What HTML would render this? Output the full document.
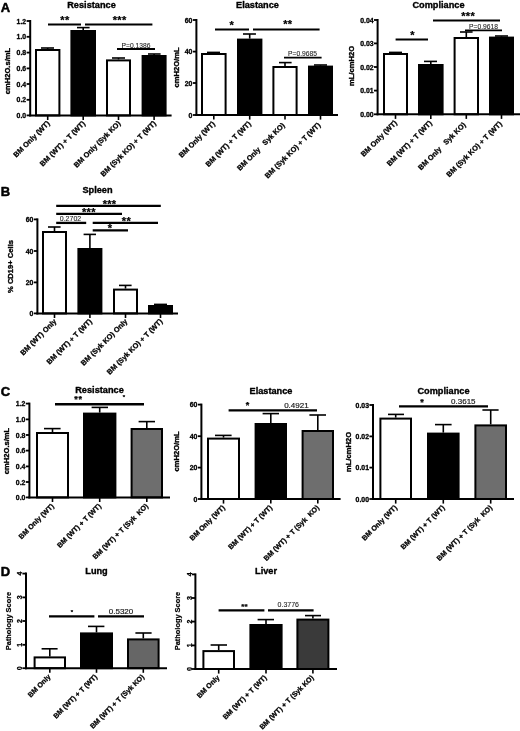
<!DOCTYPE html>
<html lang="en">
<head>
<meta charset="utf-8">
<title>Figure</title>
<style>
html,body{margin:0;padding:0;background:#fff;}
body{width:520px;height:731px;overflow:hidden;}
svg{display:block;font-family:'Liberation Sans', Arial, sans-serif;}
</style>
</head>
<body>
<svg width="520" height="731" viewBox="0 0 520 731" shape-rendering="geometricPrecision">
<rect x="0" y="0" width="520" height="731" fill="#fff"/>
<text x="0.80" y="12.40" font-size="13" font-weight="bold" text-anchor="start" fill="#000" stroke="#000" stroke-width="0.5" stroke-linejoin="round">A</text>
<line x1="47.70" y1="48.00" x2="47.70" y2="49.00" stroke="#000" stroke-width="1.6"/>
<line x1="41.00" y1="48.00" x2="54.00" y2="48.00" stroke="#000" stroke-width="1.6"/>
<rect x="36.00" y="50.00" width="23.40" height="65.40" fill="#fff" stroke="#000" stroke-width="2"/>
<line x1="83.20" y1="27.60" x2="83.20" y2="30.00" stroke="#000" stroke-width="1.6"/>
<line x1="77.00" y1="27.60" x2="89.60" y2="27.60" stroke="#000" stroke-width="1.6"/>
<rect x="71.40" y="31.00" width="23.60" height="84.40" fill="#000" stroke="#000" stroke-width="2"/>
<line x1="118.50" y1="58.00" x2="118.50" y2="59.40" stroke="#000" stroke-width="1.6"/>
<line x1="112.00" y1="58.00" x2="125.00" y2="58.00" stroke="#000" stroke-width="1.6"/>
<rect x="107.00" y="60.40" width="23.00" height="55.00" fill="#fff" stroke="#000" stroke-width="2"/>
<line x1="154.10" y1="54.00" x2="154.10" y2="55.00" stroke="#000" stroke-width="1.6"/>
<line x1="148.00" y1="54.00" x2="160.60" y2="54.00" stroke="#000" stroke-width="1.6"/>
<rect x="142.60" y="56.00" width="23.00" height="59.40" fill="#000" stroke="#000" stroke-width="2"/>
<line x1="30.20" y1="20.00" x2="30.20" y2="116.40" stroke="#000" stroke-width="2"/>
<line x1="29.20" y1="115.40" x2="171.60" y2="115.40" stroke="#000" stroke-width="2"/>
<line x1="26.60" y1="21.00" x2="30.20" y2="21.00" stroke="#000" stroke-width="1.8"/>
<text x="26.20" y="23.50" font-size="6.9" font-weight="bold" text-anchor="end" fill="#000" stroke="#000" stroke-width="0.3" stroke-linejoin="round">1.2</text>
<line x1="26.60" y1="36.80" x2="30.20" y2="36.80" stroke="#000" stroke-width="1.8"/>
<text x="26.20" y="39.30" font-size="6.9" font-weight="bold" text-anchor="end" fill="#000" stroke="#000" stroke-width="0.3" stroke-linejoin="round">1.0</text>
<line x1="26.60" y1="52.60" x2="30.20" y2="52.60" stroke="#000" stroke-width="1.8"/>
<text x="26.20" y="55.10" font-size="6.9" font-weight="bold" text-anchor="end" fill="#000" stroke="#000" stroke-width="0.3" stroke-linejoin="round">0.8</text>
<line x1="26.60" y1="68.40" x2="30.20" y2="68.40" stroke="#000" stroke-width="1.8"/>
<text x="26.20" y="70.90" font-size="6.9" font-weight="bold" text-anchor="end" fill="#000" stroke="#000" stroke-width="0.3" stroke-linejoin="round">0.6</text>
<line x1="26.60" y1="84.00" x2="30.20" y2="84.00" stroke="#000" stroke-width="1.8"/>
<text x="26.20" y="86.50" font-size="6.9" font-weight="bold" text-anchor="end" fill="#000" stroke="#000" stroke-width="0.3" stroke-linejoin="round">0.4</text>
<line x1="26.60" y1="99.80" x2="30.20" y2="99.80" stroke="#000" stroke-width="1.8"/>
<text x="26.20" y="102.30" font-size="6.9" font-weight="bold" text-anchor="end" fill="#000" stroke="#000" stroke-width="0.3" stroke-linejoin="round">0.2</text>
<line x1="26.60" y1="115.40" x2="30.20" y2="115.40" stroke="#000" stroke-width="1.8"/>
<text x="26.20" y="117.90" font-size="6.9" font-weight="bold" text-anchor="end" fill="#000" stroke="#000" stroke-width="0.3" stroke-linejoin="round">0.0</text>
<line x1="47.70" y1="115.40" x2="47.70" y2="120.00" stroke="#000" stroke-width="1.6"/>
<text x="50.20" y="123.90" font-size="7.3" font-weight="bold" text-anchor="end" fill="#000" stroke="#000" stroke-width="0.28" stroke-linejoin="round" transform="rotate(-45 50.20 123.90)">BM Only (WT)</text>
<line x1="83.20" y1="115.40" x2="83.20" y2="120.00" stroke="#000" stroke-width="1.6"/>
<text x="85.70" y="123.90" font-size="7.3" font-weight="bold" text-anchor="end" fill="#000" stroke="#000" stroke-width="0.28" stroke-linejoin="round" transform="rotate(-45 85.70 123.90)">BM (WT) + T (WT)</text>
<line x1="118.50" y1="115.40" x2="118.50" y2="120.00" stroke="#000" stroke-width="1.6"/>
<text x="121.00" y="123.90" font-size="7.3" font-weight="bold" text-anchor="end" fill="#000" stroke="#000" stroke-width="0.28" stroke-linejoin="round" transform="rotate(-45 121.00 123.90)">BM Only (Syk KO)</text>
<line x1="154.10" y1="115.40" x2="154.10" y2="120.00" stroke="#000" stroke-width="1.6"/>
<text x="156.60" y="123.90" font-size="7.3" font-weight="bold" text-anchor="end" fill="#000" stroke="#000" stroke-width="0.28" stroke-linejoin="round" transform="rotate(-45 156.60 123.90)">BM (Syk KO) + T (WT)</text>
<text x="10.00" y="71.00" font-size="7.6" font-weight="bold" text-anchor="middle" fill="#000" stroke="#000" stroke-width="0.35" stroke-linejoin="round" transform="rotate(-90 10.00 71.00)">cmH2O.s/mL</text>
<text x="91.50" y="8.20" font-size="9.2" font-weight="bold" text-anchor="middle" fill="#000" stroke="#000" stroke-width="0.35" stroke-linejoin="round">Resistance</text>
<line x1="48.00" y1="24.40" x2="81.00" y2="24.40" stroke="#000" stroke-width="2"/>
<text x="64.95" y="23.52" font-size="11" font-weight="bold" text-anchor="middle" letter-spacing="0.3" fill="#000" stroke="#000" stroke-width="0.25">**</text>
<line x1="85.00" y1="24.40" x2="152.40" y2="24.40" stroke="#000" stroke-width="2"/>
<text x="119.65" y="23.52" font-size="11" font-weight="bold" text-anchor="middle" letter-spacing="0.3" fill="#000" stroke="#000" stroke-width="0.25">***</text>
<line x1="117.00" y1="49.00" x2="155.00" y2="49.00" stroke="#000" stroke-width="1.8"/>
<text x="136.00" y="47.80" font-size="6.7" font-weight="normal" text-anchor="middle" fill="#1a1a1a" stroke="#1a1a1a" stroke-width="0.08">P=0.1386</text>
<line x1="213.80" y1="52.40" x2="213.80" y2="53.00" stroke="#000" stroke-width="1.6"/>
<line x1="207.00" y1="52.40" x2="220.00" y2="52.40" stroke="#000" stroke-width="1.6"/>
<rect x="202.00" y="54.00" width="23.60" height="61.00" fill="#fff" stroke="#000" stroke-width="2"/>
<line x1="249.70" y1="34.00" x2="249.70" y2="38.60" stroke="#000" stroke-width="1.6"/>
<line x1="243.00" y1="34.00" x2="256.00" y2="34.00" stroke="#000" stroke-width="1.6"/>
<rect x="238.00" y="39.60" width="23.40" height="75.40" fill="#000" stroke="#000" stroke-width="2"/>
<line x1="285.00" y1="62.60" x2="285.00" y2="66.00" stroke="#000" stroke-width="1.6"/>
<line x1="279.00" y1="62.60" x2="291.60" y2="62.60" stroke="#000" stroke-width="1.6"/>
<rect x="273.40" y="67.00" width="23.20" height="48.00" fill="#fff" stroke="#000" stroke-width="2"/>
<line x1="320.50" y1="65.00" x2="320.50" y2="65.60" stroke="#000" stroke-width="1.6"/>
<line x1="314.00" y1="65.00" x2="327.00" y2="65.00" stroke="#000" stroke-width="1.6"/>
<rect x="309.00" y="66.60" width="23.00" height="48.40" fill="#000" stroke="#000" stroke-width="2"/>
<line x1="196.40" y1="19.00" x2="196.40" y2="116.00" stroke="#000" stroke-width="2"/>
<line x1="195.40" y1="115.00" x2="338.00" y2="115.00" stroke="#000" stroke-width="2"/>
<line x1="192.80" y1="20.00" x2="196.40" y2="20.00" stroke="#000" stroke-width="1.8"/>
<text x="192.40" y="22.50" font-size="6.9" font-weight="bold" text-anchor="end" fill="#000" stroke="#000" stroke-width="0.3" stroke-linejoin="round">60</text>
<line x1="192.80" y1="51.60" x2="196.40" y2="51.60" stroke="#000" stroke-width="1.8"/>
<text x="192.40" y="54.10" font-size="6.9" font-weight="bold" text-anchor="end" fill="#000" stroke="#000" stroke-width="0.3" stroke-linejoin="round">40</text>
<line x1="192.80" y1="83.00" x2="196.40" y2="83.00" stroke="#000" stroke-width="1.8"/>
<text x="192.40" y="85.50" font-size="6.9" font-weight="bold" text-anchor="end" fill="#000" stroke="#000" stroke-width="0.3" stroke-linejoin="round">20</text>
<line x1="192.80" y1="115.00" x2="196.40" y2="115.00" stroke="#000" stroke-width="1.8"/>
<text x="192.40" y="117.50" font-size="6.9" font-weight="bold" text-anchor="end" fill="#000" stroke="#000" stroke-width="0.3" stroke-linejoin="round">0</text>
<line x1="213.80" y1="115.00" x2="213.80" y2="119.60" stroke="#000" stroke-width="1.6"/>
<text x="215.50" y="124.30" font-size="7.3" font-weight="bold" text-anchor="end" fill="#000" stroke="#000" stroke-width="0.28" stroke-linejoin="round" transform="rotate(-45 215.50 124.30)">BM Only (WT)</text>
<line x1="249.70" y1="115.00" x2="249.70" y2="119.60" stroke="#000" stroke-width="1.6"/>
<text x="251.40" y="124.30" font-size="7.3" font-weight="bold" text-anchor="end" fill="#000" stroke="#000" stroke-width="0.28" stroke-linejoin="round" transform="rotate(-45 251.40 124.30)">BM (WT) + T (WT)</text>
<line x1="285.00" y1="115.00" x2="285.00" y2="119.60" stroke="#000" stroke-width="1.6"/>
<text x="285.30" y="125.70" font-size="7.3" font-weight="bold" text-anchor="end" fill="#000" stroke="#000" stroke-width="0.28" stroke-linejoin="round" transform="rotate(-45 285.30 125.70)">BM Only&#160;&#160;&#160;Syk KO)</text>
<line x1="320.50" y1="115.00" x2="320.50" y2="119.60" stroke="#000" stroke-width="1.6"/>
<text x="321.00" y="125.50" font-size="7.3" font-weight="bold" text-anchor="end" fill="#000" stroke="#000" stroke-width="0.28" stroke-linejoin="round" transform="rotate(-45 321.00 125.50)">BM (Syk KO) + T (WT)</text>
<text x="179.40" y="67.50" font-size="7.6" font-weight="bold" text-anchor="middle" fill="#000" stroke="#000" stroke-width="0.35" stroke-linejoin="round" transform="rotate(-90 179.40 67.50)">cmH2O/mL</text>
<text x="257.50" y="8.20" font-size="9.2" font-weight="bold" text-anchor="middle" fill="#000" stroke="#000" stroke-width="0.35" stroke-linejoin="round">Elastance</text>
<line x1="215.00" y1="29.40" x2="249.00" y2="29.40" stroke="#000" stroke-width="2"/>
<text x="231.75" y="28.52" font-size="11" font-weight="bold" text-anchor="middle" letter-spacing="0.3" fill="#000" stroke="#000" stroke-width="0.25">*</text>
<line x1="253.00" y1="29.40" x2="319.60" y2="29.40" stroke="#000" stroke-width="2"/>
<text x="287.75" y="28.32" font-size="11" font-weight="bold" text-anchor="middle" letter-spacing="0.3" fill="#000" stroke="#000" stroke-width="0.25">**</text>
<line x1="284.00" y1="57.60" x2="321.60" y2="57.60" stroke="#000" stroke-width="1.8"/>
<text x="302.50" y="55.60" font-size="6.7" font-weight="normal" text-anchor="middle" fill="#1a1a1a" stroke="#1a1a1a" stroke-width="0.08">P=0.9685</text>
<line x1="395.50" y1="52.40" x2="395.50" y2="53.00" stroke="#000" stroke-width="1.6"/>
<line x1="389.00" y1="52.40" x2="402.00" y2="52.40" stroke="#000" stroke-width="1.6"/>
<rect x="384.00" y="54.00" width="23.00" height="60.30" fill="#fff" stroke="#000" stroke-width="2"/>
<line x1="430.80" y1="61.40" x2="430.80" y2="64.00" stroke="#000" stroke-width="1.6"/>
<line x1="424.00" y1="61.40" x2="437.00" y2="61.40" stroke="#000" stroke-width="1.6"/>
<rect x="419.00" y="65.00" width="23.60" height="49.30" fill="#000" stroke="#000" stroke-width="2"/>
<line x1="466.30" y1="32.00" x2="466.30" y2="37.00" stroke="#000" stroke-width="1.6"/>
<line x1="460.00" y1="32.00" x2="472.60" y2="32.00" stroke="#000" stroke-width="1.6"/>
<rect x="454.60" y="38.00" width="23.40" height="76.30" fill="#fff" stroke="#000" stroke-width="2"/>
<line x1="501.50" y1="36.00" x2="501.50" y2="36.60" stroke="#000" stroke-width="1.6"/>
<line x1="495.00" y1="36.00" x2="508.00" y2="36.00" stroke="#000" stroke-width="1.6"/>
<rect x="490.00" y="37.60" width="23.00" height="76.70" fill="#000" stroke="#000" stroke-width="2"/>
<line x1="377.60" y1="19.00" x2="377.60" y2="115.30" stroke="#000" stroke-width="2"/>
<line x1="376.60" y1="114.30" x2="520.00" y2="114.30" stroke="#000" stroke-width="2"/>
<line x1="374.00" y1="20.00" x2="377.60" y2="20.00" stroke="#000" stroke-width="1.8"/>
<text x="373.60" y="22.50" font-size="6.9" font-weight="bold" text-anchor="end" fill="#000" stroke="#000" stroke-width="0.3" stroke-linejoin="round">0.04</text>
<line x1="374.00" y1="43.40" x2="377.60" y2="43.40" stroke="#000" stroke-width="1.8"/>
<text x="373.60" y="45.90" font-size="6.9" font-weight="bold" text-anchor="end" fill="#000" stroke="#000" stroke-width="0.3" stroke-linejoin="round">0.03</text>
<line x1="374.00" y1="67.00" x2="377.60" y2="67.00" stroke="#000" stroke-width="1.8"/>
<text x="373.60" y="69.50" font-size="6.9" font-weight="bold" text-anchor="end" fill="#000" stroke="#000" stroke-width="0.3" stroke-linejoin="round">0.02</text>
<line x1="374.00" y1="90.60" x2="377.60" y2="90.60" stroke="#000" stroke-width="1.8"/>
<text x="373.60" y="93.10" font-size="6.9" font-weight="bold" text-anchor="end" fill="#000" stroke="#000" stroke-width="0.3" stroke-linejoin="round">0.01</text>
<line x1="374.00" y1="114.30" x2="377.60" y2="114.30" stroke="#000" stroke-width="1.8"/>
<text x="373.60" y="116.80" font-size="6.9" font-weight="bold" text-anchor="end" fill="#000" stroke="#000" stroke-width="0.3" stroke-linejoin="round">0.00</text>
<line x1="395.50" y1="114.30" x2="395.50" y2="118.90" stroke="#000" stroke-width="1.6"/>
<text x="397.50" y="123.30" font-size="7.3" font-weight="bold" text-anchor="end" fill="#000" stroke="#000" stroke-width="0.28" stroke-linejoin="round" transform="rotate(-45 397.50 123.30)">BM Only (WT)</text>
<line x1="430.80" y1="114.30" x2="430.80" y2="118.90" stroke="#000" stroke-width="1.6"/>
<text x="432.50" y="123.60" font-size="7.3" font-weight="bold" text-anchor="end" fill="#000" stroke="#000" stroke-width="0.28" stroke-linejoin="round" transform="rotate(-45 432.50 123.60)">BM (WT) + T (WT)</text>
<line x1="466.30" y1="114.30" x2="466.30" y2="118.90" stroke="#000" stroke-width="1.6"/>
<text x="466.30" y="125.30" font-size="7.3" font-weight="bold" text-anchor="end" fill="#000" stroke="#000" stroke-width="0.28" stroke-linejoin="round" transform="rotate(-45 466.30 125.30)">BM Only&#160;&#160;&#160;Syk KO)</text>
<line x1="501.50" y1="114.30" x2="501.50" y2="118.90" stroke="#000" stroke-width="1.6"/>
<text x="502.40" y="124.40" font-size="7.3" font-weight="bold" text-anchor="end" fill="#000" stroke="#000" stroke-width="0.28" stroke-linejoin="round" transform="rotate(-45 502.40 124.40)">BM (Syk KO) + T (WT)</text>
<text x="353.80" y="66.00" font-size="7.6" font-weight="bold" text-anchor="middle" fill="#000" stroke="#000" stroke-width="0.35" stroke-linejoin="round" transform="rotate(-90 353.80 66.00)">mL/cmH2O</text>
<text x="438.50" y="8.20" font-size="9.2" font-weight="bold" text-anchor="middle" fill="#000" stroke="#000" stroke-width="0.35" stroke-linejoin="round">Compliance</text>
<line x1="395.60" y1="39.60" x2="428.00" y2="39.60" stroke="#000" stroke-width="2"/>
<text x="412.55" y="38.52" font-size="11" font-weight="bold" text-anchor="middle" letter-spacing="0.3" fill="#000" stroke="#000" stroke-width="0.25">*</text>
<line x1="433.00" y1="20.60" x2="500.00" y2="20.60" stroke="#000" stroke-width="2"/>
<text x="468.15" y="19.52" font-size="11" font-weight="bold" text-anchor="middle" letter-spacing="0.3" fill="#000" stroke="#000" stroke-width="0.25">***</text>
<line x1="465.00" y1="30.40" x2="502.00" y2="30.40" stroke="#000" stroke-width="1.8"/>
<text x="483.50" y="28.60" font-size="6.7" font-weight="normal" text-anchor="middle" fill="#1a1a1a" stroke="#1a1a1a" stroke-width="0.08">P=0.9618</text>
<text x="0.80" y="196.00" font-size="13" font-weight="bold" text-anchor="start" fill="#000" stroke="#000" stroke-width="0.5" stroke-linejoin="round">B</text>
<line x1="54.50" y1="227.00" x2="54.50" y2="231.00" stroke="#000" stroke-width="1.6"/>
<line x1="48.00" y1="227.00" x2="60.60" y2="227.00" stroke="#000" stroke-width="1.6"/>
<rect x="43.00" y="232.00" width="23.00" height="81.40" fill="#fff" stroke="#000" stroke-width="2"/>
<line x1="89.90" y1="234.40" x2="89.90" y2="248.00" stroke="#000" stroke-width="1.6"/>
<line x1="83.60" y1="234.40" x2="96.00" y2="234.40" stroke="#000" stroke-width="1.6"/>
<rect x="78.40" y="249.00" width="23.00" height="64.40" fill="#000" stroke="#000" stroke-width="2"/>
<line x1="125.50" y1="285.40" x2="125.50" y2="288.60" stroke="#000" stroke-width="1.6"/>
<line x1="119.00" y1="285.40" x2="131.60" y2="285.40" stroke="#000" stroke-width="1.6"/>
<rect x="114.00" y="289.60" width="23.00" height="23.80" fill="#fff" stroke="#000" stroke-width="2"/>
<line x1="160.50" y1="304.40" x2="160.50" y2="305.00" stroke="#000" stroke-width="1.6"/>
<line x1="154.00" y1="304.40" x2="167.00" y2="304.40" stroke="#000" stroke-width="1.6"/>
<rect x="149.00" y="306.00" width="23.00" height="7.40" fill="#000" stroke="#000" stroke-width="2"/>
<line x1="37.40" y1="218.40" x2="37.40" y2="314.40" stroke="#000" stroke-width="2"/>
<line x1="36.40" y1="313.40" x2="178.00" y2="313.40" stroke="#000" stroke-width="2"/>
<line x1="33.80" y1="219.40" x2="37.40" y2="219.40" stroke="#000" stroke-width="1.8"/>
<text x="33.40" y="221.90" font-size="6.9" font-weight="bold" text-anchor="end" fill="#000" stroke="#000" stroke-width="0.3" stroke-linejoin="round">60</text>
<line x1="33.80" y1="251.00" x2="37.40" y2="251.00" stroke="#000" stroke-width="1.8"/>
<text x="33.40" y="253.50" font-size="6.9" font-weight="bold" text-anchor="end" fill="#000" stroke="#000" stroke-width="0.3" stroke-linejoin="round">40</text>
<line x1="33.80" y1="282.40" x2="37.40" y2="282.40" stroke="#000" stroke-width="1.8"/>
<text x="33.40" y="284.90" font-size="6.9" font-weight="bold" text-anchor="end" fill="#000" stroke="#000" stroke-width="0.3" stroke-linejoin="round">20</text>
<line x1="33.80" y1="313.40" x2="37.40" y2="313.40" stroke="#000" stroke-width="1.8"/>
<text x="33.40" y="315.90" font-size="6.9" font-weight="bold" text-anchor="end" fill="#000" stroke="#000" stroke-width="0.3" stroke-linejoin="round">0</text>
<line x1="54.50" y1="313.40" x2="54.50" y2="318.00" stroke="#000" stroke-width="1.6"/>
<text x="57.00" y="321.90" font-size="7.3" font-weight="bold" text-anchor="end" fill="#000" stroke="#000" stroke-width="0.28" stroke-linejoin="round" transform="rotate(-45 57.00 321.90)">BM (WT) Only</text>
<line x1="89.90" y1="313.40" x2="89.90" y2="318.00" stroke="#000" stroke-width="1.6"/>
<text x="92.40" y="321.90" font-size="7.3" font-weight="bold" text-anchor="end" fill="#000" stroke="#000" stroke-width="0.28" stroke-linejoin="round" transform="rotate(-45 92.40 321.90)">BM (WT) + T (WT)</text>
<line x1="125.50" y1="313.40" x2="125.50" y2="318.00" stroke="#000" stroke-width="1.6"/>
<text x="128.00" y="321.90" font-size="7.3" font-weight="bold" text-anchor="end" fill="#000" stroke="#000" stroke-width="0.28" stroke-linejoin="round" transform="rotate(-45 128.00 321.90)">BM (Syk KO) Only</text>
<line x1="160.50" y1="313.40" x2="160.50" y2="318.00" stroke="#000" stroke-width="1.6"/>
<text x="163.00" y="321.90" font-size="7.3" font-weight="bold" text-anchor="end" fill="#000" stroke="#000" stroke-width="0.28" stroke-linejoin="round" transform="rotate(-45 163.00 321.90)">BM (Syk KO) + T (WT)</text>
<text x="13.00" y="266.50" font-size="7.6" font-weight="bold" text-anchor="middle" fill="#000" stroke="#000" stroke-width="0.35" stroke-linejoin="round" transform="rotate(-90 13.00 266.50)">% CD19+ Cells</text>
<text x="97.50" y="193.40" font-size="9.2" font-weight="bold" text-anchor="middle" fill="#000" stroke="#000" stroke-width="0.35" stroke-linejoin="round">Spleen</text>
<line x1="56.20" y1="205.80" x2="160.80" y2="205.80" stroke="#000" stroke-width="2.3"/>
<text x="109.55" y="207.62" font-size="11" font-weight="bold" text-anchor="middle" letter-spacing="0.3" fill="#000" stroke="#000" stroke-width="0.25">***</text>
<line x1="56.20" y1="213.90" x2="122.00" y2="213.90" stroke="#000" stroke-width="2.3"/>
<text x="88.85" y="215.82" font-size="11" font-weight="bold" text-anchor="middle" letter-spacing="0.3" fill="#000" stroke="#000" stroke-width="0.25">***</text>
<line x1="56.20" y1="222.90" x2="86.20" y2="222.90" stroke="#000" stroke-width="2.3"/>
<text x="70.50" y="221.20" font-size="7" font-weight="normal" text-anchor="middle" fill="#1a1a1a" stroke="#1a1a1a" stroke-width="0.08">0.2702</text>
<line x1="92.70" y1="222.90" x2="158.00" y2="222.90" stroke="#000" stroke-width="2.3"/>
<text x="126.45" y="224.62" font-size="11" font-weight="bold" text-anchor="middle" letter-spacing="0.3" fill="#000" stroke="#000" stroke-width="0.25">**</text>
<line x1="92.70" y1="230.30" x2="128.00" y2="230.30" stroke="#000" stroke-width="2.3"/>
<text x="109.95" y="232.02" font-size="11" font-weight="bold" text-anchor="middle" letter-spacing="0.3" fill="#000" stroke="#000" stroke-width="0.25">*</text>
<text x="0.80" y="396.00" font-size="13" font-weight="bold" text-anchor="start" fill="#000" stroke="#000" stroke-width="0.5" stroke-linejoin="round">C</text>
<line x1="52.50" y1="428.60" x2="52.50" y2="432.00" stroke="#000" stroke-width="1.6"/>
<line x1="44.00" y1="428.60" x2="60.60" y2="428.60" stroke="#000" stroke-width="1.6"/>
<rect x="37.00" y="433.00" width="31.00" height="64.40" fill="#fff" stroke="#000" stroke-width="2"/>
<line x1="99.70" y1="407.40" x2="99.70" y2="412.60" stroke="#000" stroke-width="1.6"/>
<line x1="91.60" y1="407.40" x2="108.00" y2="407.40" stroke="#000" stroke-width="1.6"/>
<rect x="84.00" y="413.60" width="31.40" height="83.80" fill="#000" stroke="#000" stroke-width="2"/>
<line x1="146.80" y1="421.60" x2="146.80" y2="428.00" stroke="#000" stroke-width="1.6"/>
<line x1="138.60" y1="421.60" x2="155.00" y2="421.60" stroke="#000" stroke-width="1.6"/>
<rect x="131.60" y="429.00" width="30.40" height="68.40" fill="#6e6e6e" stroke="#000" stroke-width="2"/>
<line x1="29.40" y1="402.60" x2="29.40" y2="498.40" stroke="#000" stroke-width="2"/>
<line x1="28.40" y1="497.40" x2="170.00" y2="497.40" stroke="#000" stroke-width="2"/>
<line x1="25.80" y1="403.60" x2="29.40" y2="403.60" stroke="#000" stroke-width="1.8"/>
<text x="25.40" y="406.10" font-size="6.9" font-weight="bold" text-anchor="end" fill="#000" stroke="#000" stroke-width="0.3" stroke-linejoin="round">1.2</text>
<line x1="25.80" y1="419.40" x2="29.40" y2="419.40" stroke="#000" stroke-width="1.8"/>
<text x="25.40" y="421.90" font-size="6.9" font-weight="bold" text-anchor="end" fill="#000" stroke="#000" stroke-width="0.3" stroke-linejoin="round">1.0</text>
<line x1="25.80" y1="435.00" x2="29.40" y2="435.00" stroke="#000" stroke-width="1.8"/>
<text x="25.40" y="437.50" font-size="6.9" font-weight="bold" text-anchor="end" fill="#000" stroke="#000" stroke-width="0.3" stroke-linejoin="round">0.8</text>
<line x1="25.80" y1="450.60" x2="29.40" y2="450.60" stroke="#000" stroke-width="1.8"/>
<text x="25.40" y="453.10" font-size="6.9" font-weight="bold" text-anchor="end" fill="#000" stroke="#000" stroke-width="0.3" stroke-linejoin="round">0.6</text>
<line x1="25.80" y1="466.40" x2="29.40" y2="466.40" stroke="#000" stroke-width="1.8"/>
<text x="25.40" y="468.90" font-size="6.9" font-weight="bold" text-anchor="end" fill="#000" stroke="#000" stroke-width="0.3" stroke-linejoin="round">0.4</text>
<line x1="25.80" y1="482.00" x2="29.40" y2="482.00" stroke="#000" stroke-width="1.8"/>
<text x="25.40" y="484.50" font-size="6.9" font-weight="bold" text-anchor="end" fill="#000" stroke="#000" stroke-width="0.3" stroke-linejoin="round">0.2</text>
<line x1="25.80" y1="497.40" x2="29.40" y2="497.40" stroke="#000" stroke-width="1.8"/>
<text x="25.40" y="499.90" font-size="6.9" font-weight="bold" text-anchor="end" fill="#000" stroke="#000" stroke-width="0.3" stroke-linejoin="round">0.0</text>
<line x1="52.50" y1="497.40" x2="52.50" y2="502.00" stroke="#000" stroke-width="1.6"/>
<text x="54.40" y="506.50" font-size="7.1" font-weight="bold" text-anchor="end" fill="#000" stroke="#000" stroke-width="0.28" stroke-linejoin="round" transform="rotate(-45 54.40 506.50)">BM Only (WT)</text>
<line x1="99.70" y1="497.40" x2="99.70" y2="502.00" stroke="#000" stroke-width="1.6"/>
<text x="101.60" y="506.50" font-size="7.1" font-weight="bold" text-anchor="end" fill="#000" stroke="#000" stroke-width="0.28" stroke-linejoin="round" transform="rotate(-45 101.60 506.50)">BM (WT) + T (WT)</text>
<line x1="146.80" y1="497.40" x2="146.80" y2="502.00" stroke="#000" stroke-width="1.6"/>
<text x="148.70" y="506.50" font-size="7.1" font-weight="bold" text-anchor="end" fill="#000" stroke="#000" stroke-width="0.28" stroke-linejoin="round" transform="rotate(-45 148.70 506.50)">BM (WT) + T (Syk&#160; KO)</text>
<text x="8.60" y="451.00" font-size="7.6" font-weight="bold" text-anchor="middle" fill="#000" stroke="#000" stroke-width="0.35" stroke-linejoin="round" transform="rotate(-90 8.60 451.00)">cmH2O.s/mL</text>
<text x="99.50" y="392.80" font-size="9.2" font-weight="bold" text-anchor="middle" fill="#000" stroke="#000" stroke-width="0.35" stroke-linejoin="round">Resistance</text>
<line x1="55.00" y1="404.20" x2="144.00" y2="404.20" stroke="#000" stroke-width="2.4"/>
<text x="78.55" y="402.22" font-size="9" font-weight="bold" text-anchor="middle" letter-spacing="0.7" fill="#000" stroke="#000" stroke-width="0.25">**</text>
<text x="124.15" y="398.61" font-size="6" font-weight="bold" text-anchor="middle" letter-spacing="0.3" fill="#000" stroke="#000" stroke-width="0.25">*</text>
<line x1="223.50" y1="435.40" x2="223.50" y2="437.60" stroke="#000" stroke-width="1.6"/>
<line x1="215.00" y1="435.40" x2="231.60" y2="435.40" stroke="#000" stroke-width="1.6"/>
<rect x="208.00" y="438.60" width="31.00" height="60.40" fill="#fff" stroke="#000" stroke-width="2"/>
<line x1="270.80" y1="413.60" x2="270.80" y2="423.00" stroke="#000" stroke-width="1.6"/>
<line x1="262.60" y1="413.60" x2="279.00" y2="413.60" stroke="#000" stroke-width="1.6"/>
<rect x="255.60" y="424.00" width="30.40" height="75.00" fill="#000" stroke="#000" stroke-width="2"/>
<line x1="317.80" y1="415.00" x2="317.80" y2="430.00" stroke="#000" stroke-width="1.6"/>
<line x1="309.40" y1="415.00" x2="326.00" y2="415.00" stroke="#000" stroke-width="1.6"/>
<rect x="302.60" y="431.00" width="30.40" height="68.00" fill="#6e6e6e" stroke="#000" stroke-width="2"/>
<line x1="201.40" y1="403.60" x2="201.40" y2="500.00" stroke="#000" stroke-width="2"/>
<line x1="200.40" y1="499.00" x2="340.60" y2="499.00" stroke="#000" stroke-width="2"/>
<line x1="197.80" y1="404.60" x2="201.40" y2="404.60" stroke="#000" stroke-width="1.8"/>
<text x="197.40" y="407.10" font-size="6.9" font-weight="bold" text-anchor="end" fill="#000" stroke="#000" stroke-width="0.3" stroke-linejoin="round">60</text>
<line x1="197.80" y1="436.20" x2="201.40" y2="436.20" stroke="#000" stroke-width="1.8"/>
<text x="197.40" y="438.70" font-size="6.9" font-weight="bold" text-anchor="end" fill="#000" stroke="#000" stroke-width="0.3" stroke-linejoin="round">40</text>
<line x1="197.80" y1="467.60" x2="201.40" y2="467.60" stroke="#000" stroke-width="1.8"/>
<text x="197.40" y="470.10" font-size="6.9" font-weight="bold" text-anchor="end" fill="#000" stroke="#000" stroke-width="0.3" stroke-linejoin="round">20</text>
<line x1="197.80" y1="499.00" x2="201.40" y2="499.00" stroke="#000" stroke-width="1.8"/>
<text x="197.40" y="501.50" font-size="6.9" font-weight="bold" text-anchor="end" fill="#000" stroke="#000" stroke-width="0.3" stroke-linejoin="round">0</text>
<line x1="223.50" y1="499.00" x2="223.50" y2="503.60" stroke="#000" stroke-width="1.6"/>
<text x="225.40" y="508.10" font-size="7.1" font-weight="bold" text-anchor="end" fill="#000" stroke="#000" stroke-width="0.28" stroke-linejoin="round" transform="rotate(-45 225.40 508.10)">BM Only (WT)</text>
<line x1="270.80" y1="499.00" x2="270.80" y2="503.60" stroke="#000" stroke-width="1.6"/>
<text x="272.70" y="508.10" font-size="7.1" font-weight="bold" text-anchor="end" fill="#000" stroke="#000" stroke-width="0.28" stroke-linejoin="round" transform="rotate(-45 272.70 508.10)">BM (WT) + T (WT)</text>
<line x1="317.80" y1="499.00" x2="317.80" y2="503.60" stroke="#000" stroke-width="1.6"/>
<text x="319.70" y="508.10" font-size="7.1" font-weight="bold" text-anchor="end" fill="#000" stroke="#000" stroke-width="0.28" stroke-linejoin="round" transform="rotate(-45 319.70 508.10)">BM (WT) + T (Syk&#160; KO)</text>
<text x="178.60" y="451.50" font-size="7.6" font-weight="bold" text-anchor="middle" fill="#000" stroke="#000" stroke-width="0.35" stroke-linejoin="round" transform="rotate(-90 178.60 451.50)">cmH2O/mL</text>
<text x="271.00" y="393.60" font-size="9.2" font-weight="bold" text-anchor="middle" fill="#000" stroke="#000" stroke-width="0.35" stroke-linejoin="round">Elastance</text>
<line x1="228.60" y1="410.40" x2="317.00" y2="410.40" stroke="#000" stroke-width="2.4"/>
<text x="247.55" y="407.52" font-size="9" font-weight="bold" text-anchor="middle" letter-spacing="0.3" fill="#000" stroke="#000" stroke-width="0.25">*</text>
<text x="296.40" y="407.80" font-size="8" font-weight="normal" text-anchor="middle" fill="#1a1a1a" stroke="#1a1a1a" stroke-width="0.18">0.4921</text>
<line x1="395.70" y1="414.40" x2="395.70" y2="417.60" stroke="#000" stroke-width="1.6"/>
<line x1="388.00" y1="414.40" x2="404.00" y2="414.40" stroke="#000" stroke-width="1.6"/>
<rect x="380.40" y="418.60" width="30.60" height="80.40" fill="#fff" stroke="#000" stroke-width="2"/>
<line x1="443.30" y1="424.60" x2="443.30" y2="432.60" stroke="#000" stroke-width="1.6"/>
<line x1="435.00" y1="424.60" x2="451.60" y2="424.60" stroke="#000" stroke-width="1.6"/>
<rect x="428.00" y="433.60" width="30.60" height="65.40" fill="#000" stroke="#000" stroke-width="2"/>
<line x1="490.70" y1="410.00" x2="490.70" y2="424.40" stroke="#000" stroke-width="1.6"/>
<line x1="482.40" y1="410.00" x2="498.60" y2="410.00" stroke="#000" stroke-width="1.6"/>
<rect x="475.40" y="425.40" width="30.60" height="73.60" fill="#6e6e6e" stroke="#000" stroke-width="2"/>
<line x1="373.00" y1="404.00" x2="373.00" y2="500.00" stroke="#000" stroke-width="2"/>
<line x1="372.00" y1="499.00" x2="514.00" y2="499.00" stroke="#000" stroke-width="2"/>
<line x1="369.40" y1="405.00" x2="373.00" y2="405.00" stroke="#000" stroke-width="1.8"/>
<text x="369.00" y="407.50" font-size="6.9" font-weight="bold" text-anchor="end" fill="#000" stroke="#000" stroke-width="0.3" stroke-linejoin="round">0.03</text>
<line x1="369.40" y1="436.40" x2="373.00" y2="436.40" stroke="#000" stroke-width="1.8"/>
<text x="369.00" y="438.90" font-size="6.9" font-weight="bold" text-anchor="end" fill="#000" stroke="#000" stroke-width="0.3" stroke-linejoin="round">0.02</text>
<line x1="369.40" y1="467.60" x2="373.00" y2="467.60" stroke="#000" stroke-width="1.8"/>
<text x="369.00" y="470.10" font-size="6.9" font-weight="bold" text-anchor="end" fill="#000" stroke="#000" stroke-width="0.3" stroke-linejoin="round">0.01</text>
<line x1="369.40" y1="499.00" x2="373.00" y2="499.00" stroke="#000" stroke-width="1.8"/>
<text x="369.00" y="501.50" font-size="6.9" font-weight="bold" text-anchor="end" fill="#000" stroke="#000" stroke-width="0.3" stroke-linejoin="round">0.00</text>
<line x1="395.70" y1="499.00" x2="395.70" y2="503.60" stroke="#000" stroke-width="1.6"/>
<text x="397.60" y="508.10" font-size="7.1" font-weight="bold" text-anchor="end" fill="#000" stroke="#000" stroke-width="0.28" stroke-linejoin="round" transform="rotate(-45 397.60 508.10)">BM Only (WT)</text>
<line x1="443.30" y1="499.00" x2="443.30" y2="503.60" stroke="#000" stroke-width="1.6"/>
<text x="445.20" y="508.10" font-size="7.1" font-weight="bold" text-anchor="end" fill="#000" stroke="#000" stroke-width="0.28" stroke-linejoin="round" transform="rotate(-45 445.20 508.10)">BM (WT) + T (WT)</text>
<line x1="490.70" y1="499.00" x2="490.70" y2="503.60" stroke="#000" stroke-width="1.6"/>
<text x="492.60" y="508.10" font-size="7.1" font-weight="bold" text-anchor="end" fill="#000" stroke="#000" stroke-width="0.28" stroke-linejoin="round" transform="rotate(-45 492.60 508.10)">BM (WT) + T (Syk&#160; KO)</text>
<text x="351.40" y="452.00" font-size="7.6" font-weight="bold" text-anchor="middle" fill="#000" stroke="#000" stroke-width="0.35" stroke-linejoin="round" transform="rotate(-90 351.40 452.00)">mL/cmH2O</text>
<text x="443.50" y="393.60" font-size="9.2" font-weight="bold" text-anchor="middle" fill="#000" stroke="#000" stroke-width="0.35" stroke-linejoin="round">Compliance</text>
<line x1="399.00" y1="406.40" x2="488.00" y2="406.40" stroke="#000" stroke-width="2.4"/>
<text x="422.15" y="404.52" font-size="9" font-weight="bold" text-anchor="middle" letter-spacing="0.3" fill="#000" stroke="#000" stroke-width="0.25">*</text>
<text x="463.30" y="404.20" font-size="8" font-weight="normal" text-anchor="middle" fill="#1a1a1a" stroke="#1a1a1a" stroke-width="0.18">0.3615</text>
<text x="0.80" y="576.00" font-size="13" font-weight="bold" text-anchor="start" fill="#000" stroke="#000" stroke-width="0.5" stroke-linejoin="round">D</text>
<line x1="49.80" y1="648.80" x2="49.80" y2="656.40" stroke="#000" stroke-width="1.6"/>
<line x1="41.60" y1="648.80" x2="57.60" y2="648.80" stroke="#000" stroke-width="1.6"/>
<rect x="34.60" y="657.40" width="30.40" height="10.80" fill="#fff" stroke="#000" stroke-width="2"/>
<line x1="96.50" y1="626.40" x2="96.50" y2="632.40" stroke="#000" stroke-width="1.6"/>
<line x1="88.00" y1="626.40" x2="104.40" y2="626.40" stroke="#000" stroke-width="1.6"/>
<rect x="81.00" y="633.40" width="31.00" height="34.80" fill="#000" stroke="#000" stroke-width="2"/>
<line x1="143.30" y1="633.00" x2="143.30" y2="638.40" stroke="#000" stroke-width="1.6"/>
<line x1="135.40" y1="633.00" x2="151.60" y2="633.00" stroke="#000" stroke-width="1.6"/>
<rect x="128.00" y="639.40" width="30.60" height="28.80" fill="#666" stroke="#000" stroke-width="2"/>
<line x1="26.00" y1="572.60" x2="26.00" y2="669.20" stroke="#000" stroke-width="2"/>
<line x1="25.00" y1="668.20" x2="167.00" y2="668.20" stroke="#000" stroke-width="2"/>
<line x1="22.40" y1="573.60" x2="26.00" y2="573.60" stroke="#000" stroke-width="1.8"/>
<text x="22.40" y="573.60" font-size="7" font-weight="bold" text-anchor="middle" fill="#000" stroke="#000" stroke-width="0.3" stroke-linejoin="round" transform="rotate(-90 22.40 573.60)">4</text>
<line x1="22.40" y1="597.40" x2="26.00" y2="597.40" stroke="#000" stroke-width="1.8"/>
<text x="22.40" y="597.40" font-size="7" font-weight="bold" text-anchor="middle" fill="#000" stroke="#000" stroke-width="0.3" stroke-linejoin="round" transform="rotate(-90 22.40 597.40)">3</text>
<line x1="22.40" y1="621.00" x2="26.00" y2="621.00" stroke="#000" stroke-width="1.8"/>
<text x="22.40" y="621.00" font-size="7" font-weight="bold" text-anchor="middle" fill="#000" stroke="#000" stroke-width="0.3" stroke-linejoin="round" transform="rotate(-90 22.40 621.00)">2</text>
<line x1="22.40" y1="644.80" x2="26.00" y2="644.80" stroke="#000" stroke-width="1.8"/>
<text x="22.40" y="644.80" font-size="7" font-weight="bold" text-anchor="middle" fill="#000" stroke="#000" stroke-width="0.3" stroke-linejoin="round" transform="rotate(-90 22.40 644.80)">1</text>
<line x1="22.40" y1="668.20" x2="26.00" y2="668.20" stroke="#000" stroke-width="1.8"/>
<text x="22.40" y="668.20" font-size="7" font-weight="bold" text-anchor="middle" fill="#000" stroke="#000" stroke-width="0.3" stroke-linejoin="round" transform="rotate(-90 22.40 668.20)">0</text>
<line x1="49.80" y1="668.20" x2="49.80" y2="672.80" stroke="#000" stroke-width="1.6"/>
<text x="51.10" y="677.30" font-size="7.1" font-weight="bold" text-anchor="end" fill="#000" stroke="#000" stroke-width="0.28" stroke-linejoin="round" transform="rotate(-45 51.10 677.30)">BM Only</text>
<line x1="96.50" y1="668.20" x2="96.50" y2="672.80" stroke="#000" stroke-width="1.6"/>
<text x="97.80" y="677.30" font-size="7.1" font-weight="bold" text-anchor="end" fill="#000" stroke="#000" stroke-width="0.28" stroke-linejoin="round" transform="rotate(-45 97.80 677.30)">BM (WT) + T (WT)</text>
<line x1="143.30" y1="668.20" x2="143.30" y2="672.80" stroke="#000" stroke-width="1.6"/>
<text x="144.60" y="677.30" font-size="7.1" font-weight="bold" text-anchor="end" fill="#000" stroke="#000" stroke-width="0.28" stroke-linejoin="round" transform="rotate(-45 144.60 677.30)">BM (WT) + T (Syk KO)</text>
<text x="10.80" y="621.00" font-size="7.4" font-weight="bold" text-anchor="middle" fill="#000" stroke="#000" stroke-width="0.2" stroke-linejoin="round" transform="rotate(-90 10.80 621.00)">Pathology Score</text>
<text x="96.50" y="574.20" font-size="9.2" font-weight="bold" text-anchor="middle" fill="#000" stroke="#000" stroke-width="0.35" stroke-linejoin="round">Lung</text>
<line x1="49.00" y1="616.40" x2="94.40" y2="616.40" stroke="#000" stroke-width="2.3"/>
<text x="72.15" y="614.01" font-size="6" font-weight="bold" text-anchor="middle" letter-spacing="0.3" fill="#000" stroke="#000" stroke-width="0.25">*</text>
<line x1="98.00" y1="616.40" x2="144.00" y2="616.40" stroke="#000" stroke-width="2.3"/>
<text x="121.00" y="614.00" font-size="8" font-weight="normal" text-anchor="middle" fill="#1a1a1a" stroke="#1a1a1a" stroke-width="0.18">0.5320</text>
<line x1="218.70" y1="645.00" x2="218.70" y2="650.10" stroke="#000" stroke-width="1.6"/>
<line x1="210.60" y1="645.00" x2="227.00" y2="645.00" stroke="#000" stroke-width="1.6"/>
<rect x="203.40" y="651.10" width="30.60" height="17.90" fill="#fff" stroke="#000" stroke-width="2"/>
<line x1="266.00" y1="619.60" x2="266.00" y2="624.00" stroke="#000" stroke-width="1.6"/>
<line x1="257.60" y1="619.60" x2="274.00" y2="619.60" stroke="#000" stroke-width="1.6"/>
<rect x="250.40" y="625.00" width="31.20" height="44.00" fill="#000" stroke="#000" stroke-width="2"/>
<line x1="312.90" y1="615.60" x2="312.90" y2="618.60" stroke="#000" stroke-width="1.6"/>
<line x1="305.00" y1="615.60" x2="321.00" y2="615.60" stroke="#000" stroke-width="1.6"/>
<rect x="297.40" y="619.60" width="31.00" height="49.40" fill="#3a3a3a" stroke="#000" stroke-width="2"/>
<line x1="195.40" y1="573.40" x2="195.40" y2="670.00" stroke="#000" stroke-width="2"/>
<line x1="194.40" y1="669.00" x2="337.00" y2="669.00" stroke="#000" stroke-width="2"/>
<line x1="191.80" y1="574.40" x2="195.40" y2="574.40" stroke="#000" stroke-width="1.8"/>
<text x="191.80" y="574.40" font-size="7" font-weight="bold" text-anchor="middle" fill="#000" stroke="#000" stroke-width="0.3" stroke-linejoin="round" transform="rotate(-90 191.80 574.40)">4</text>
<line x1="191.80" y1="598.00" x2="195.40" y2="598.00" stroke="#000" stroke-width="1.8"/>
<text x="191.80" y="598.00" font-size="7" font-weight="bold" text-anchor="middle" fill="#000" stroke="#000" stroke-width="0.3" stroke-linejoin="round" transform="rotate(-90 191.80 598.00)">3</text>
<line x1="191.80" y1="621.60" x2="195.40" y2="621.60" stroke="#000" stroke-width="1.8"/>
<text x="191.80" y="621.60" font-size="7" font-weight="bold" text-anchor="middle" fill="#000" stroke="#000" stroke-width="0.3" stroke-linejoin="round" transform="rotate(-90 191.80 621.60)">2</text>
<line x1="191.80" y1="645.40" x2="195.40" y2="645.40" stroke="#000" stroke-width="1.8"/>
<text x="191.80" y="645.40" font-size="7" font-weight="bold" text-anchor="middle" fill="#000" stroke="#000" stroke-width="0.3" stroke-linejoin="round" transform="rotate(-90 191.80 645.40)">1</text>
<line x1="191.80" y1="669.00" x2="195.40" y2="669.00" stroke="#000" stroke-width="1.8"/>
<text x="191.80" y="669.00" font-size="7" font-weight="bold" text-anchor="middle" fill="#000" stroke="#000" stroke-width="0.3" stroke-linejoin="round" transform="rotate(-90 191.80 669.00)">0</text>
<line x1="218.70" y1="669.00" x2="218.70" y2="673.60" stroke="#000" stroke-width="1.6"/>
<text x="220.00" y="678.10" font-size="7.1" font-weight="bold" text-anchor="end" fill="#000" stroke="#000" stroke-width="0.28" stroke-linejoin="round" transform="rotate(-45 220.00 678.10)">BM Only</text>
<line x1="266.00" y1="669.00" x2="266.00" y2="673.60" stroke="#000" stroke-width="1.6"/>
<text x="267.30" y="678.10" font-size="7.1" font-weight="bold" text-anchor="end" fill="#000" stroke="#000" stroke-width="0.28" stroke-linejoin="round" transform="rotate(-45 267.30 678.10)">BM (WT) + T (WT)</text>
<line x1="312.90" y1="669.00" x2="312.90" y2="673.60" stroke="#000" stroke-width="1.6"/>
<text x="314.20" y="678.10" font-size="7.1" font-weight="bold" text-anchor="end" fill="#000" stroke="#000" stroke-width="0.28" stroke-linejoin="round" transform="rotate(-45 314.20 678.10)">BM (WT) + T (Syk KO)</text>
<text x="180.40" y="621.00" font-size="7.4" font-weight="bold" text-anchor="middle" fill="#000" stroke="#000" stroke-width="0.2" stroke-linejoin="round" transform="rotate(-90 180.40 621.00)">Pathology Score</text>
<text x="266.00" y="574.20" font-size="9.2" font-weight="bold" text-anchor="middle" fill="#000" stroke="#000" stroke-width="0.35" stroke-linejoin="round">Liver</text>
<line x1="218.60" y1="610.40" x2="264.40" y2="610.40" stroke="#000" stroke-width="2.3"/>
<text x="244.55" y="609.22" font-size="8" font-weight="bold" text-anchor="middle" letter-spacing="0.3" fill="#000" stroke="#000" stroke-width="0.25">**</text>
<line x1="268.00" y1="610.40" x2="313.60" y2="610.40" stroke="#000" stroke-width="2.3"/>
<text x="288.30" y="606.60" font-size="7" font-weight="normal" text-anchor="middle" fill="#1a1a1a" stroke="#1a1a1a" stroke-width="0.08">0.3776</text>
</svg>
</body>
</html>
